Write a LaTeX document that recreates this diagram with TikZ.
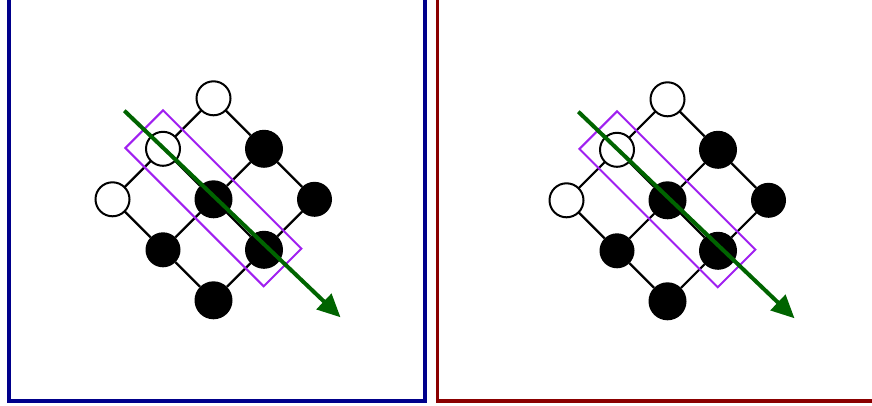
\documentclass[tikz,border=0pt]{standalone}
\usetikzlibrary{arrows.meta}
\definecolor{panelblue}{RGB}{0,0,139}
\definecolor{panelred}{RGB}{139,0,0}
\definecolor{boxpurple}{RGB}{160,32,240}
\definecolor{arrowgreen}{RGB}{0,100,0}
\tikzset{
  site/.style={circle, inner sep=0pt, outer sep=0pt, line width=2pt},
  emptysite/.style={site, draw=black, fill=white, minimum size=34pt},
  fullsite/.style={site, fill=black, minimum size=38pt},
  smallsite/.style={site, fill=black, minimum size=35pt},
  bond/.style={line width=2.2pt, draw=black},
  window/.style={draw=boxpurple, line width=2pt, rotate=-45, minimum width=195.6pt, minimum height=53.3pt, inner sep=0pt, outer sep=0pt},
  flow/.style={draw=arrowgreen, line width=4pt, -{Triangle[length=23pt,width=21pt]}},
  panelframe/.style={line width=3.7pt, line join=miter},
}
\newcommand\latticepanel[3]{%
  \begin{scope}[shift={(#2,#3)}]
    \node[emptysite] (#1t)  at (213.5,98.3)  {};
    \node[emptysite] (#1ul) at (163,148.8)   {};
    \node[emptysite] (#1l)  at (112.5,199.3) {};
    \node[fullsite]  (#1ur) at (264,148.8)   {};
    \node[fullsite]  (#1c)  at (213.5,199.3) {};
    \node[smallsite] (#1r)  at (314.5,199.3) {};
    \node[smallsite] (#1ll) at (163,249.8)   {};
    \node[fullsite]  (#1lr) at (264,249.8)   {};
    \node[fullsite]  (#1b)  at (213.5,300.3) {};
    \draw[bond] (#1t) -- (#1ul);
    \draw[bond] (#1ul) -- (#1l);
    \draw[bond] (#1l) -- (#1ll);
    \draw[bond] (#1ll) -- (#1b);
    \draw[bond] (#1b) -- (#1lr);
    \draw[bond] (#1lr) -- (#1r);
    \draw[bond] (#1r) -- (#1ur);
    \draw[bond] (#1ur) -- (#1t);
    \draw[bond] (#1ul) -- (#1c);
    \draw[bond] (#1c) -- (#1lr);
    \draw[bond] (#1ur) -- (#1c);
    \draw[bond] (#1c) -- (#1ll);
    \node[window] (#1w) at (213.4,198.3) {};
    \coordinate (#1s) at (124.3,110.7);
    \coordinate (#1e) at (340.5,317.3);
    \draw[flow] (#1s) -- (#1e);
  \end{scope}%
}
\begin{document}
\begin{tikzpicture}[x=1pt,y=-1pt]
  \useasboundingbox (0,0) rectangle (872,406);
  \clip (0,0) rectangle (872,406);
  \draw[panelframe, draw=panelblue] (9.2,-5) -- (9.2,401) -- (425,401) -- (425,-5);
  \draw[panelframe, draw=panelred] (437.5,-5) -- (437.5,401) -- (880,401);
  \latticepanel{A}{0}{0}
  \latticepanel{B}{454}{1}
\end{tikzpicture}
\end{document}
